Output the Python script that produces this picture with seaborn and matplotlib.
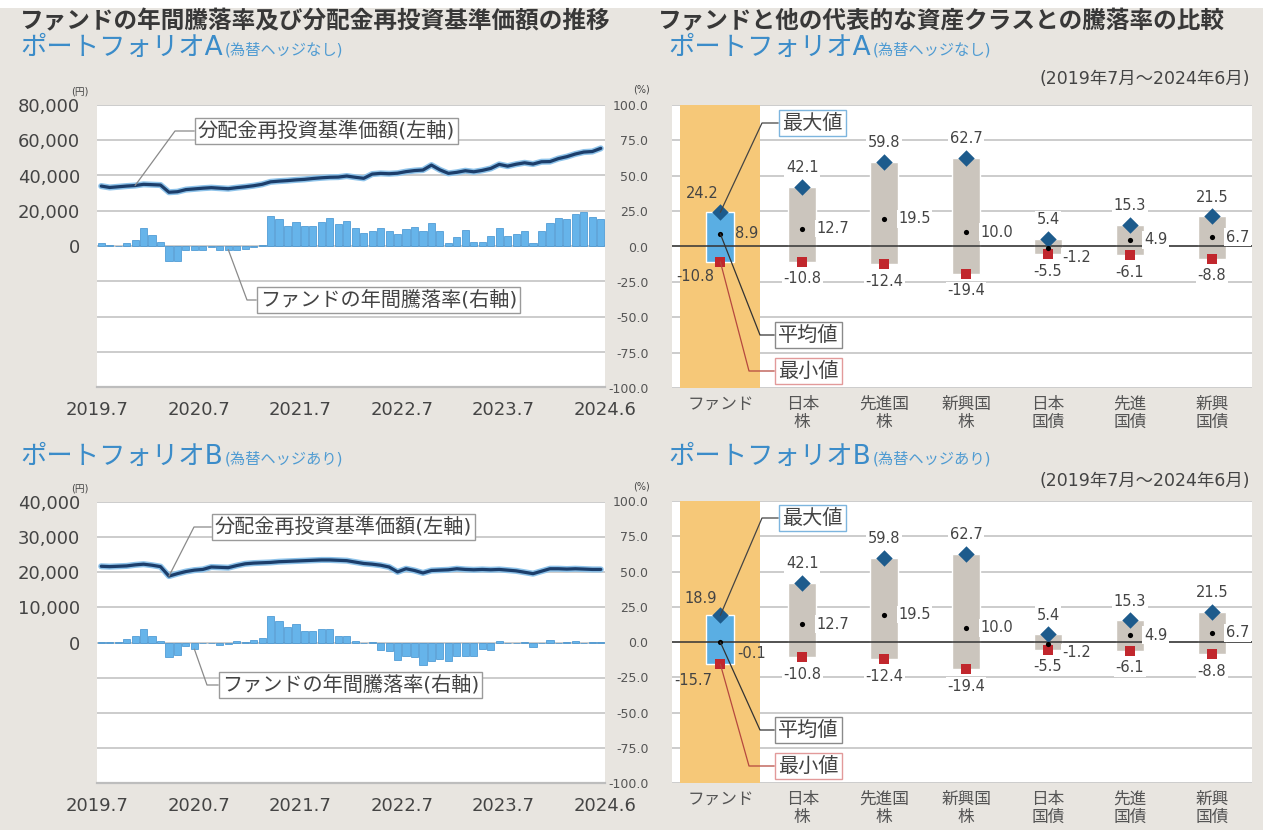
import numpy as np
import matplotlib
matplotlib.use("Agg")
import matplotlib.pyplot as plt
import matplotlib.patheffects as pe
from matplotlib.patches import Rectangle
import seaborn as sns

# monthly history, 2019.7 - 2024.6
months = np.arange(60)
year_ticks = ['2019.7', '2020.7', '2021.7', '2022.7', '2023.7', '2024.6']

nav_a = [34000, 33200, 33600, 34000, 34300, 35000, 34800, 34600, 30500, 30800,
         32000, 32400, 32800, 33100, 32800, 32500, 33100, 33600, 34200, 35000,
         36400, 36800, 37100, 37500, 37800, 38300, 38700, 39000, 39100, 39700,
         39000, 38400, 40800, 41200, 41000, 41300, 42200, 42800, 43100, 45900,
         43200, 41200, 41800, 42700, 42100, 42900, 44000, 46300, 45300, 46400,
         47200, 46500, 47800, 47900, 49600, 50700, 52200, 53300, 53600, 55400]
ret_a = [2.4, 0.5, 0.3, 2.4, 4.0, 12.5, 7.8, 3.0, -10.8, -10.4,
         -2.8, -2.8, -2.8, -0.5, -2.5, -2.5, -2.5, -2.0, -0.5, 0.5,
         21.3, 18.9, 14.4, 17.3, 14.2, 14.2, 17.3, 19.6, 15.6, 17.5,
         13.0, 9.5, 10.9, 13.0, 10.9, 8.3, 12.3, 13.5, 10.9, 16.1,
         10.4, 2.4, 6.6, 11.3, 3.0, 3.0, 7.0, 12.5, 7.3, 8.5,
         10.4, 2.4, 10.9, 16.5, 19.6, 19.1, 22.7, 24.2, 20.3, 19.1]
nav_b = [21700, 21600, 21700, 21800, 22100, 22300, 22000, 21600, 18900, 19600,
         20200, 20600, 20800, 21500, 21400, 21300, 21900, 22400, 22600, 22700,
         22800, 23000, 23100, 23200, 23300, 23400, 23500, 23500, 23400, 23300,
         22900, 22500, 22300, 22000, 21500, 20100, 21000, 20500, 19800, 20500,
         20600, 20700, 21000, 20800, 20700, 20800, 20700, 20800, 20600, 20400,
         20000, 19600, 20300, 21000, 21000, 20900, 21000, 20900, 20800, 20800]
ret_b = [0.3, 0.3, 0.5, 2.4, 4.7, 9.9, 4.3, 1.2, -10.6, -8.7,
         -2.8, -4.7, -0.7, -0.3, -1.7, -1.2, 1.2, 0.7, 1.7, 3.5,
         18.9, 15.4, 11.3, 13.0, 8.3, 8.3, 9.7, 9.7, 4.5, 4.5,
         1.2, 0.0, 0.2, -5.4, -5.9, -12.3, -9.5, -10.2, -15.7, -13.0,
         -11.8, -13.0, -9.5, -9.5, -9.5, -4.7, -5.4, 1.2, -0.7, -0.7,
         0.7, -3.5, 0.0, 2.1, 0.0, 0.7, 1.0, 0.0, 0.2, 0.5]

# asset class comparison
classes = ['ファンド', '日本\n株', '先進国\n株', '新興国\n株', '日本\n国債', '先進\n国債', '新興\n国債']
max_a = [24.2, 42.1, 59.8, 62.7, 5.4, 15.3, 21.5]
mean_a = [8.9, 12.7, 19.5, 10.0, -1.2, 4.9, 6.7]
min_a = [-10.8, -10.8, -12.4, -19.4, -5.5, -6.1, -8.8]
max_b = [18.9, 42.1, 59.8, 62.7, 5.4, 15.3, 21.5]
mean_b = [-0.1, 12.7, 19.5, 10.0, -1.2, 4.9, 6.7]
min_b = [-15.7, -10.8, -12.4, -19.4, -5.5, -6.1, -8.8]

BG = '#e8e5e0'
GRID = '#c8c8c8'
BAR = '#66b4ea'
BAR_EDGE = '#3f90cf'
NAVY = '#1c3e6b'
HALO = '#8ec3ea'
BAND = '#f6c878'
FUND_BLUE = '#5aaee3'
BOX_GRAY = '#cbc5bd'
DIAMOND = '#1d5b8c'
SQUARE = '#c1272d'
TXT = '#444444'
SUB_BLUE = '#3b8cc9'

sns.set_theme(style='white')
plt.rcParams['font.family'] = ['DejaVu Sans', 'Noto Sans CJK JP']
plt.rcParams['axes.unicode_minus'] = False

W, H = 1263, 830
fig = plt.figure(figsize=(W / 100, H / 100), dpi=100, facecolor=BG)
fig.patches.append(Rectangle((0, 1 - 8 / H), 1, 8 / H, transform=fig.transFigure,
                             facecolor='white', edgecolor='none'))


def px_rect(x0, y0, x1, y1):
    return [x0 / W, 1 - y1 / H, (x1 - x0) / W, (y1 - y0) / H]


def ftext(x, y, s, **kw):
    return fig.text(x / W, 1 - y / H, s, **kw)


def callout(ax, text, xy, trans, box_px, bend, ec, lc, fs=14.5):
    # leader: horizontal from the box, then straight to the point
    px, py = trans.transform(xy)
    ox, oy = ax.transAxes.transform((0, 0))
    bx, by = ox + box_px[0] - 3 - bend, oy + box_px[1]
    ang = np.degrees(np.arctan2(by - py, bx - px))
    ax.annotate(text, xy=xy, xycoords=trans, xytext=box_px, textcoords='axes pixels',
                ha='left', va='center', fontsize=fs, color=TXT, zorder=10,
                bbox=dict(boxstyle='square,pad=0.16', fc='white', ec=ec, lw=1.0),
                arrowprops=dict(arrowstyle='-', color=lc, lw=0.9, relpos=(0, 0.5),
                                shrinkA=0, shrinkB=0,
                                connectionstyle=f'angle,angleA=0,angleB={ang},rad=0'))


def draw_history(rect, nav, ret, nav_top, nav_i, ret_i, nav_box, ret_box, nav_bend, ret_bend):
    ax = fig.add_axes(rect)
    axr = ax.twinx()
    ax.set_zorder(3)
    axr.set_zorder(2)
    ax.patch.set_visible(False)
    axr.patch.set_visible(True)
    axr.patch.set_facecolor('white')

    sns.barplot(x=months, y=ret, native_scale=True, ax=axr, color=BAR, width=0.85,
                saturation=1, errorbar=None, edgecolor=BAR_EDGE, linewidth=0.5)
    sns.lineplot(x=months, y=nav, ax=ax, color=NAVY, linewidth=2.3,
                 path_effects=[pe.Stroke(linewidth=4.4, foreground=HALO), pe.Normal()])

    axr.set_ylim(-100, 100)
    axr.set_yticks(np.arange(-100, 101, 25))
    axr.set_axisbelow(True)
    axr.yaxis.grid(True, color=GRID, linewidth=1.3)
    axr.tick_params(right=False, labelright=False)
    axr.set_ylabel('')

    ticks = np.linspace(-nav_top, nav_top, 9)
    ax.set_ylim(-nav_top, nav_top)
    ax.set_yticks(ticks, [f'{t:,.0f}' if t >= 0 else '' for t in ticks])
    ax.set_xlim(-0.5, 59.5)
    ax.set_xticks([-0.5, 11.5, 23.5, 35.5, 47.5, 59.5], year_ticks)
    ax.tick_params(axis='y', left=False, labelsize=13, colors=TXT, pad=6)
    ax.tick_params(axis='x', bottom=False, labelsize=13, colors=TXT, pad=4)
    ax.set_xlabel('')
    ax.set_ylabel('')
    for a in (ax, axr):
        for s in a.spines.values():
            s.set_visible(False)
    ax.spines['bottom'].set_visible(True)
    ax.spines['bottom'].set_color('#bdbdbd')
    ax.spines['bottom'].set_linewidth(1.6)

    callout(ax, '分配金再投資基準価額(左軸)', (nav_i, nav[nav_i]), ax.transData,
            nav_box, nav_bend, '#9a9a9a', '#8a8a8a')
    callout(ax, 'ファンドの年間騰落率(右軸)', (ret_i, ret[ret_i]), axr.transData,
            ret_box, ret_bend, '#9a9a9a', '#8a8a8a')
    return ax


def draw_compare(rect, mx, mean, mn, fund_off):
    ax = fig.add_axes(rect)
    ax.set_facecolor('white')
    pos = np.arange(len(classes))
    ax.set_axisbelow(True)
    ax.yaxis.grid(True, color=GRID, linewidth=1.3)
    ax.axvspan(pos[0] - 0.49, pos[0] + 0.48, color=BAND, lw=0, zorder=1)

    sns.barplot(x=classes, y=np.subtract(mx, mn), bottom=mn, ax=ax, color=BOX_GRAY,
                width=0.34, saturation=1, errorbar=None, zorder=3)
    ax.containers[-1][0].set_facecolor(FUND_BLUE)
    ax.axhline(0, color='#333333', lw=1.1, zorder=4)

    sns.scatterplot(x=pos, y=mx, marker='D', s=70, color=DIAMOND, linewidth=0, ax=ax, zorder=6)
    sns.scatterplot(x=pos, y=mn, marker='s', s=45, color=SQUARE, linewidth=0, ax=ax, zorder=6)
    sns.scatterplot(x=pos, y=mean, marker='o', s=14, color='black', linewidth=0, ax=ax, zorder=6)

    lab = dict(textcoords='offset pixels', fontsize=10.5, color=TXT, zorder=7)
    white = dict(boxstyle='square,pad=0.1', fc='white', ec='none')
    for i in pos:
        if i == 0:
            ax.annotate(f'{mx[i]:.1f}', (i, mx[i]), xytext=fund_off[0], ha='center', va='center', **lab)
            ax.annotate(f'{mean[i]:.1f}', (i, mean[i]), xytext=fund_off[1], ha='left', va='center', **lab)
            ax.annotate(f'{mn[i]:.1f}', (i, mn[i]), xytext=fund_off[2], ha='center', va='center', **lab)
            continue
        dy = -9 if mx[i] - mn[i] < 15 else 0
        ax.annotate(f'{mx[i]:.1f}', (i, mx[i]), xytext=(0, 19), ha='center', va='center', bbox=white, **lab)
        ax.annotate(f'{mean[i]:.1f}', (i, mean[i]), xytext=(14, dy), ha='left', va='center', bbox=white, **lab)
        ax.annotate(f'{mn[i]:.1f}', (i, mn[i]), xytext=(0, -17), ha='center', va='center', bbox=white, **lab)

    ax.set_ylim(-100, 100)
    ax.set_yticks(np.arange(-100, 101, 25), [f'{v:.1f}' for v in np.arange(-100, 101, 25)])
    ax.set_xlim(-0.59, 6.49)
    ax.tick_params(axis='y', left=False, labelsize=9, colors='#555555', pad=11)
    ax.tick_params(axis='x', bottom=False, labelsize=12, colors='#555555', pad=-1)
    for t in ax.get_xticklabels():
        t.set_linespacing(1.0)
    ax.set_xlabel('')
    ax.set_ylabel('')
    for s in ax.spines.values():
        s.set_visible(False)

    callout(ax, '最大値', (0, mx[0]), ax.transData, (110, 265), 17, '#7db5de', '#444444')
    callout(ax, '平均値', (0, mean[0]), ax.transData, (106, 53), 15, '#8a8a8a', '#333333')
    callout(ax, '最小値', (0, mn[0]), ax.transData, (106, 17), 26, '#e29a9a', '#b5483f')
    return ax


ax_ta = draw_history(px_rect(97, 105, 605, 387), nav_a, ret_a, 80000, 4, 15,
                     (101, 256), (163, 87), 20, 10)
ax_ba = draw_history(px_rect(97, 502, 605, 783), nav_b, ret_b, 40000, 8, 11,
                     (118, 256), (125, 98), 18, 12)
draw_compare(px_rect(672, 105, 1252, 388), max_a, mean_a, min_a,
             [(-18, 19), (15, 0), (-25, -15)])
draw_compare(px_rect(672, 501, 1252, 783), max_b, mean_b, min_b,
             [(-20, 17), (17, -11), (-27, -16)])

# headings
ftext(20, 21, 'ファンドの年間騰落率及び分配金再投資基準価額の推移', fontsize=17, weight='bold',
      color='#383838', va='center')
ftext(658, 21, 'ファンドと他の代表的な資産クラスとの騰落率の比較', fontsize=17, weight='bold',
      color='#383838', va='center')


def subtitle(x, y, main, paren):
    t = ftext(x, y, main, fontsize=19, color=SUB_BLUE, va='center')
    ax_ta.annotate(paren, xy=(1, 0.12), xycoords=t, xytext=(2, 0), textcoords='offset pixels',
                   ha='left', va='bottom', fontsize=11, color='#4f9bd2')


subtitle(20, 48, 'ポートフォリオA', '(為替ヘッジなし)')
subtitle(668, 48, 'ポートフォリオA', '(為替ヘッジなし)')
subtitle(20, 457, 'ポートフォリオB', '(為替ヘッジあり)')
subtitle(668, 457, 'ポートフォリオB', '(為替ヘッジあり)')

for y in (79, 481):
    ftext(1250, y, '(2019年7月〜2024年6月)', fontsize=12.5, color=TXT, ha='right', va='center')
for y in (92, 488):
    ftext(80, y, '(円)', fontsize=7, color=TXT, ha='center', va='center')
    ftext(642, y - 2, '(%)', fontsize=7, color=TXT, ha='center', va='center')

fig.savefig('out.png', dpi=100, facecolor=BG)
